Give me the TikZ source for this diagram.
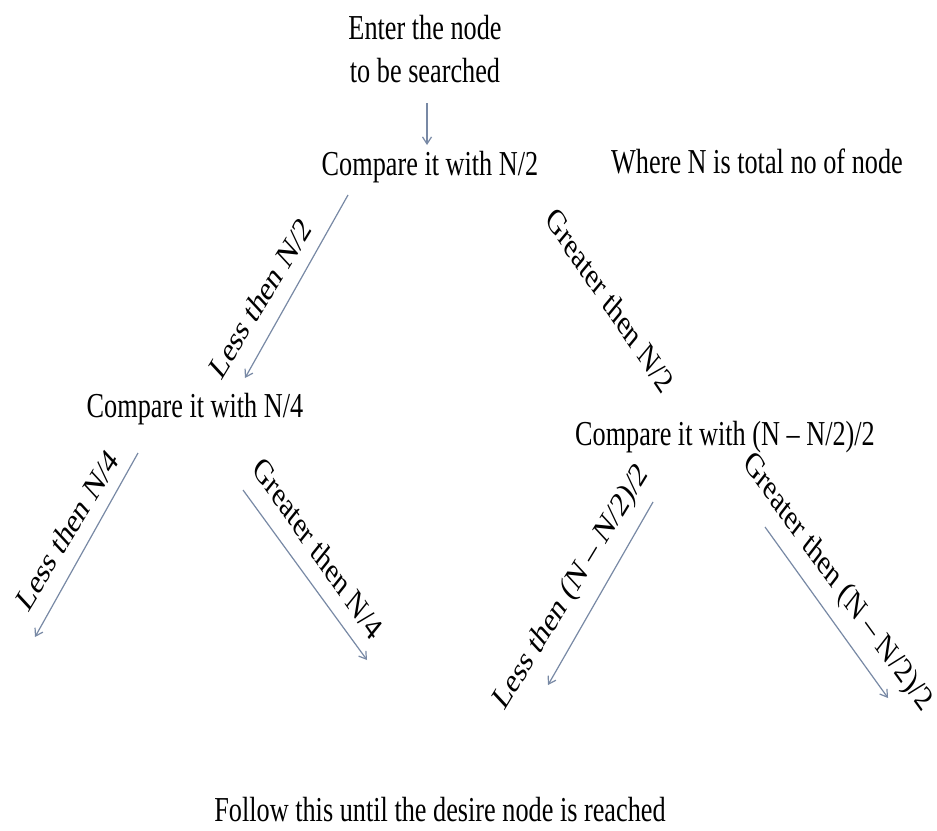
\documentclass[tikz,border=0pt]{standalone}
\usepackage{fontspec}
\setmainfont{Liberation Serif}
\usetikzlibrary{arrows.meta}
\definecolor{arrowc}{RGB}{120,137,165}
\begin{document}
\begin{tikzpicture}[x=1.333333pt,y=-1pt,xscale=0.75,transform shape,
  txt/.style={inner sep=0pt, font=\fontsize{35}{43}\selectfont},
  ttl/.style={txt, anchor=base},
  lbl/.style={txt, anchor=center},
  conn/.style={draw=arrowc, line width=1.2pt, -{Straight Barb[length=7pt,width=9pt]}}]
\fill[white] (0,0) rectangle (937,830);
\useasboundingbox (0,0) rectangle (937,830);

% text nodes
\node[ttl, align=center] (enter) at (425,82) {Enter the node\\to be searched};
\node[ttl] (cmp1) at (430,175) {Compare it with N/2};
\node[ttl] (where) at (757,173) {Where N is total no of node};
\node[ttl] (cmp2) at (195,417) {Compare it with N/4};
\node[ttl] (cmp3) at (725,445) {Compare it with (N – N/2)/2};
\node[ttl] (follow) at (440,821) {Follow this until the desire node is reached};

% arrow end points
\coordinate (a1s) at (427,103);  \coordinate (a1e) at (427,145);
\coordinate (a2s) at (348,195);  \coordinate (a2e) at (245,378);
\coordinate (a3s) at (138,453);  \coordinate (a3e) at (35,637);
\coordinate (a4s) at (243,490);  \coordinate (a4e) at (367,660);
\coordinate (a5s) at (653,502);  \coordinate (a5e) at (548,685);
\coordinate (a6s) at (765,527);  \coordinate (a6e) at (888,698);

\draw[conn] (a1s) -- (a1e);
\draw[conn] (a2s) -- (a2e);
\draw[conn] (a3s) -- (a3e);
\draw[conn] (a4s) -- (a4e);
\draw[conn] (a5s) -- (a5e);
\draw[conn] (a6s) -- (a6e);

% branch labels
\node[lbl, rotate=51] (l1) at (260,298) {Less then N/2};
\node[lbl, rotate=-48] (l4) at (610,300) {Greater then N/2};
\node[lbl, rotate=51] (l2) at (67,530) {Less then N/4};
\node[lbl, rotate=-47] (l3) at (318,548) {Greater then N/4};
\node[lbl, rotate=51] (l5) at (572,588) {Less then (N – N/2)/2};
\node[lbl, rotate=-46] (l6) at (837,583) {Greater then (N – N/2)/2};
\end{tikzpicture}
\end{document}
